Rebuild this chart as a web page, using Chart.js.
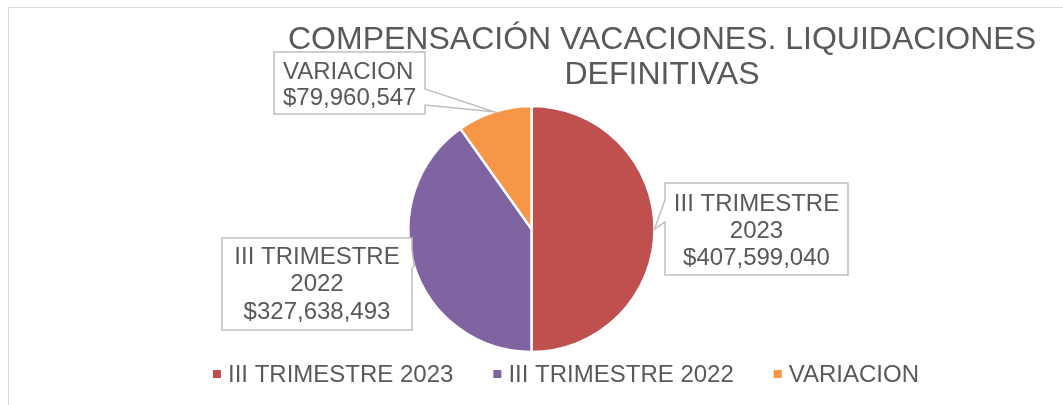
<!DOCTYPE html>
<html>
<head>
<meta charset="utf-8">
<script src="https://cdn.jsdelivr.net/npm/chart.js@4"></script>
<style>
  html, body { margin: 0; padding: 0; background: #fff; }
  #wrap { width: 1063px; height: 405px; position: relative; }
</style>
</head>
<body>
<div id="wrap"><canvas id="c" width="1063" height="405"></canvas></div>
<script>
// ---- data ----
const categories = ['III TRIMESTRE 2023', 'III TRIMESTRE 2022', 'VARIACION'];
const labelLines = [['III TRIMESTRE', '2023'], ['III TRIMESTRE', '2022'], ['VARIACION']];
const values = [407599040, 327638493, 79960547];
const colors = ['#C0504D', '#8064A2', '#F79646'];
const titleLines = ['COMPENSACIÓN VACACIONES. LIQUIDACIONES', 'DEFINITIVAS'];

// ---- layout (callout boxes) ----
const boxes = [
  { l: 665, t: 183, r: 848, b: 275, align: 'center', baselines: [211, 238, 265], side: 'left', wedge: [200, 222] },
  { l: 222, t: 238, r: 412, b: 330, align: 'center', baselines: [264, 291, 319], side: 'right', wedge: [250, 268] },
  { l: 274, t: 52, r: 425, b: 114, align: 'left', baselines: [79, 105], side: 'right', wedge: [89, 105] }
];
const TEXT = '#595959';
const FONT = '"Liberation Sans", Arial, sans-serif';

function fmt(v) { return '$' + v.toLocaleString('en-US'); }

const decor = {
  id: 'decor',
  afterDraw(chart) {
    const ctx = chart.ctx;
    ctx.save();
    // outer chart border (only top/left visible)
    ctx.strokeStyle = '#D9D9D9';
    ctx.lineWidth = 1;
    ctx.beginPath();
    ctx.moveTo(8.5, 420); ctx.lineTo(8.5, 7.5); ctx.lineTo(1080, 7.5);
    ctx.stroke();

    // title
    ctx.fillStyle = TEXT;
    ctx.font = '32px ' + FONT;
    ctx.textAlign = 'center';
    ctx.textBaseline = 'alphabetic';
    ctx.fillText(titleLines[0], 662, 49);
    ctx.fillText(titleLines[1], 662, 84);

    // callouts
    const meta = chart.getDatasetMeta(0);
    meta.data.forEach((arc, i) => {
      const bx = boxes[i];
      const mid = (arc.startAngle + arc.endAngle) / 2;
      const ax = arc.x + Math.cos(mid) * arc.outerRadius;
      const ay = arc.y + Math.sin(mid) * arc.outerRadius;
      ctx.beginPath();
      ctx.strokeStyle = '#BFBFBF';
      ctx.lineWidth = 1.5;
      ctx.fillStyle = '#fff';
      if (bx.side === 'left') {
        ctx.moveTo(bx.l, bx.t); ctx.lineTo(bx.r, bx.t); ctx.lineTo(bx.r, bx.b); ctx.lineTo(bx.l, bx.b);
        ctx.lineTo(bx.l, bx.wedge[1]); ctx.lineTo(ax, ay); ctx.lineTo(bx.l, bx.wedge[0]);
        ctx.closePath();
      } else {
        ctx.moveTo(bx.l, bx.t); ctx.lineTo(bx.r, bx.t); ctx.lineTo(bx.r, bx.wedge[0]);
        ctx.lineTo(ax, ay); ctx.lineTo(bx.r, bx.wedge[1]);
        ctx.lineTo(bx.r, bx.b); ctx.lineTo(bx.l, bx.b);
        ctx.closePath();
      }
      ctx.fill();
      ctx.stroke();
      const lines = labelLines[i].concat([fmt(values[i])]);
      ctx.fillStyle = TEXT;
      ctx.font = '24px ' + FONT;
      if (bx.align === 'center') {
        ctx.textAlign = 'center';
        const cx = (bx.l + bx.r) / 2;
        lines.forEach((s, k) => ctx.fillText(s, cx, bx.baselines[k]));
      } else {
        ctx.textAlign = 'left';
        lines.forEach((s, k) => ctx.fillText(s, bx.l + 9, bx.baselines[k]));
      }
    });

    // legend
    ctx.font = '24px ' + FONT;
    ctx.textAlign = 'left';
    const sq = 8, gapT = 7, gapI = 40;
    const widths = categories.map(s => ctx.measureText(s).width);
    const total = widths.reduce((a, w) => a + sq + gapT + w, 0) + gapI * (categories.length - 1);
    let x = 566 - total / 2;
    categories.forEach((s, i) => {
      ctx.fillStyle = colors[i];
      ctx.fillRect(x, 370, sq, sq);
      ctx.fillStyle = TEXT;
      ctx.fillText(s, x + sq + gapT, 382);
      x += sq + gapT + widths[i] + gapI;
    });
    ctx.restore();
  }
};

new Chart(document.getElementById('c'), {
  type: 'pie',
  data: {
    labels: categories,
    datasets: [{
      data: values,
      backgroundColor: colors,
      borderColor: '#ffffff',
      borderWidth: 2.5,
      radius: 123
    }]
  },
  options: {
    responsive: false,
    animation: false,
    layout: { padding: { left: 400, right: 400, top: 100, bottom: 47 } },
    plugins: { legend: { display: false }, title: { display: false }, tooltip: { enabled: false } }
  },
  plugins: [decor]
});
</script>
</body>
</html>
